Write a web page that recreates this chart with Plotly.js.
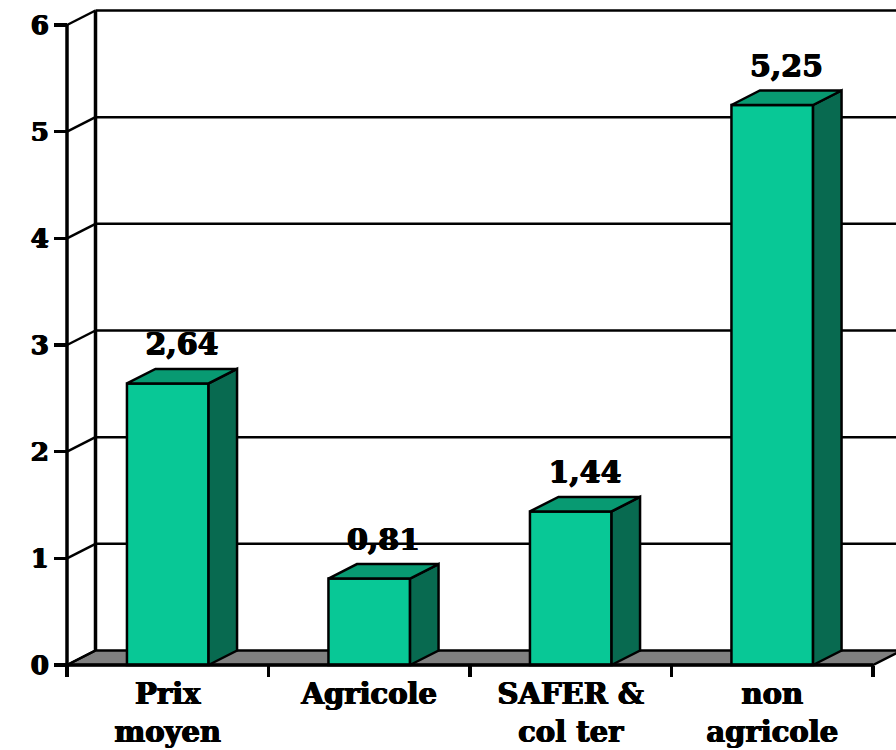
<!DOCTYPE html>
<html>
<head>
<meta charset="utf-8">
<script src="https://cdn.plot.ly/plotly-3.0.1.min.js"></script>
<style>html,body{margin:0;padding:0;background:#fff;}#chart{width:896px;height:750px;}</style>
</head>
<body>
<div id="chart"></div>
<script>
// ---- data ----
const categories = ['Prix<br>moyen', 'Agricole', 'SAFER &<br>col ter', 'non<br>agricole'];
const values = [2.64, 0.81, 1.44, 5.25];
const yTicks = [0, 1, 2, 3, 4, 5, 6];

// ---- geometry (layout only) ----
const W = 896, H = 750;
const pxPerX = 201.5, pxPerY = 106.667;
const axisLeftPx = 67, axisBottomPx = 665;
const xRange = [-0.5 - axisLeftPx / pxPerX, -0.5 + (W - axisLeftPx) / pxPerX];
const yRange = [-(H - axisBottomPx) / pxPerY, axisBottomPx / pxPerY];
const DX = 28.5 / pxPerX, DY = 14.5 / pxPerY;
const BW = 0.405;
const LABEL_LIFT = 7 / pxPerY;
const n = categories.length;
const xs = categories.map((c, i) => i);
const xLeft = -0.5, xRight = n - 0.5;
const yMax = yTicks[yTicks.length - 1];

const FRONT = '#08C896', SIDE = '#086A50', TOP = '#089A72', FLOOR = '#808080';
const fontFam = 'DejaVu Serif';
const heavy = '0.7px 0 0 #000, -0.7px 0 0 #000, 0 0.5px 0 #000';

// ---- background shapes (floor, walls, gridlines) ----
const shapes = [];
shapes.push({type: 'path', xref: 'x', yref: 'y', layer: 'below',
  path: `M ${xLeft} 0 L ${xRight} 0 L ${xRight + DX} ${DY} L ${xLeft + DX} ${DY} Z`,
  fillcolor: FLOOR, line: {color: 'black', width: 2.5}});
yTicks.forEach(v => {
  if (v > 0) shapes.push({type: 'line', xref: 'x', yref: 'y', layer: 'below',
    x0: xLeft + DX, x1: xRange[1] + 1, y0: v + DY, y1: v + DY, line: {color: 'black', width: 2.5}});
  shapes.push({type: 'line', xref: 'x', yref: 'y', layer: 'below',
    x0: xLeft, x1: xLeft + DX, y0: v, y1: v + DY, line: {color: 'black', width: 2.5}});
});
shapes.push({type: 'line', xref: 'x', yref: 'y', layer: 'below',
  x0: xLeft + DX, x1: xLeft + DX, y0: DY, y1: yMax + DY, line: {color: 'black', width: 3.5}});
shapes.push({type: 'line', xref: 'x', yref: 'y', layer: 'above',
  x0: xLeft, x1: xLeft, y0: 0, y1: yMax, line: {color: 'black', width: 3.5}});
shapes.push({type: 'line', xref: 'x', yref: 'y', layer: 'above',
  x0: xLeft, x1: xRight, y0: 0, y1: 0, line: {color: 'black', width: 3.5}});

// ---- 3D faces ----
const sideX = [], sideY = [], topX = [], topY = [];
xs.forEach((x, i) => {
  const v = values[i], r = x + BW / 2, l = x - BW / 2;
  sideX.push(r, r, r + DX, r + DX, r, null);
  sideY.push(0, v, v + DY, DY, 0, null);
  topX.push(l, r, r + DX, l + DX, l, null);
  topY.push(v, v, v + DY, v + DY, v, null);
});

const traces = [
  {type: 'bar', x: xs, y: values, width: BW, xaxis: 'x', yaxis: 'y',
   marker: {color: FRONT, line: {color: 'black', width: 2.5}}, hoverinfo: 'skip'},
  {type: 'scatter', mode: 'lines', x: sideX, y: sideY, fill: 'toself', fillcolor: SIDE,
   line: {color: 'black', width: 2.5}, hoverinfo: 'skip'},
  {type: 'scatter', mode: 'lines', x: topX, y: topY, fill: 'toself', fillcolor: TOP,
   line: {color: 'black', width: 2.5}, hoverinfo: 'skip'},
  {type: 'scatter', mode: 'text', x: xs.map(x => x + DX / 2), y: values.map(v => v + DY + LABEL_LIFT),
   text: values.map(v => v.toFixed(2).replace('.', ',')), textposition: 'top center',
   textfont: {family: fontFam, size: 30, weight: 'bold', color: 'black', shadow: heavy},
   cliponaxis: false, hoverinfo: 'skip'}
];

const layout = {
  width: W, height: H,
  margin: {l: 0, r: 0, t: 0, b: 0, pad: 0},
  paper_bgcolor: 'white', plot_bgcolor: 'rgba(0,0,0,0)',
  showlegend: false,
  xaxis: {domain: [0, 1], range: xRange, anchor: 'free', position: (H - axisBottomPx) / H,
    tickmode: 'array', tickvals: xs, ticktext: categories,
    ticks: 'outside', ticklen: 3, tickcolor: 'rgba(0,0,0,0)',
    showline: false, showgrid: false, zeroline: false, fixedrange: true,
    tickfont: {family: fontFam, size: 29, weight: 'bold', color: 'black', shadow: heavy}},
  xaxis2: {overlaying: 'x', range: xRange, anchor: 'free', position: (H - axisBottomPx) / H,
    tickmode: 'array', tickvals: xs.map(x => x - 0.5).concat([xRight]), ticktext: xs.map(() => '').concat(['']),
    ticks: 'outside', ticklen: 11, tickwidth: 3.5, tickcolor: 'black',
    showline: false, showgrid: false, zeroline: false, showticklabels: false},
  yaxis: {domain: [0, 1], range: yRange, anchor: 'free', position: axisLeftPx / W,
    tickmode: 'array', tickvals: yTicks, ticktext: yTicks.map(String),
    ticks: 'outside', ticklen: 13, tickwidth: 3.5, tickcolor: 'black',
    showline: false, showgrid: false, zeroline: false, fixedrange: true,
    tickfont: {family: fontFam, size: 26, weight: 'bold', color: 'black', shadow: heavy}},
  shapes: shapes
};

traces.push({type: 'scatter', x: [], y: [], xaxis: 'x2', yaxis: 'y', hoverinfo: 'skip'});

Plotly.newPlot('chart', traces, layout, {displayModeBar: false, staticPlot: true});
</script>
</body>
</html>
